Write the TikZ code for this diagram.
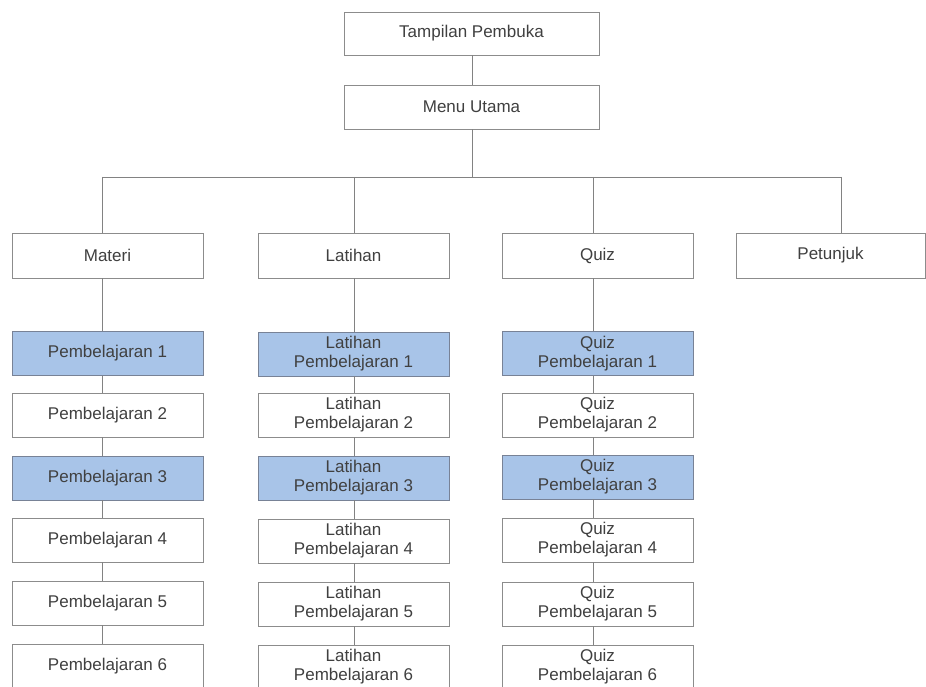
\documentclass[tikz,border=0pt]{standalone}
\usepackage{fontspec}
\setmainfont{Liberation Sans}
\definecolor{boxline}{RGB}{140,140,140}
\definecolor{hl}{RGB}{168,196,232}
\definecolor{hlline}{RGB}{120,130,150}
\definecolor{txt}{RGB}{64,64,64}
\definecolor{conn}{RGB}{130,130,130}
\begin{document}
\begin{tikzpicture}[x=1pt,y=-1pt,
  box/.style={draw=boxline, line width=0.9pt, fill=white, minimum width=191pt, minimum height=44pt,
    inner sep=0pt, align=center, text=txt, font=\fontsize{17}{19}\selectfont},
  topbox/.style={box, minimum width=255pt, minimum height=43pt},
  hlbox/.style={box, fill=hl, draw=hlline},
  link/.style={draw=conn, line width=0.9pt}]
\useasboundingbox (0,0) rectangle (926,687);
\clip (0,0) rectangle (926,687);
% column line positions
\coordinate (cm) at (102,0);
\coordinate (cl) at (354,0);
\coordinate (cq) at (593,0);
\coordinate (cp) at (841,0);
\coordinate (ct) at (472,0);
% top
\node[topbox] (top) at (471.5,33.5) {Tampilan Pembuka};
\node[topbox, minimum height=44pt] (menu) at (471.5,107) {Menu Utama};
% bus
\coordinate (busm) at (472,177);
\coordinate (b1) at (102,177);
\coordinate (b4) at (841,177);
% level 1
\node[box, minimum height=45pt] (materi) at (107.5,255.5) {Materi};
\node[box, minimum height=45pt] (latihan) at (353.5,255.5) {Latihan};
\node[box, minimum height=45pt] (quiz) at (597.5,255.5) {Quiz};
\node[box, minimum height=45pt, minimum width=189pt] (petunjuk) at (830.5,255.5) {Petunjuk};
% Materi column
\node[hlbox] (m1) at (107.5,353.5) {Pembelajaran 1};
\node[box]   (m2) at (107.5,415) {Pembelajaran 2};
\node[hlbox] (m3) at (107.5,478) {Pembelajaran 3};
\node[box]   (m4) at (107.5,540) {Pembelajaran 4};
\node[box]   (m5) at (107.5,603) {Pembelajaran 5};
\node[box]   (m6) at (107.5,666) {Pembelajaran 6};
% Latihan column
\node[hlbox] (l1) at (353.5,354) {Latihan\\Pembelajaran 1};
\node[box]   (l2) at (353.5,415) {Latihan\\Pembelajaran 2};
\node[hlbox] (l3) at (353.5,478) {Latihan\\Pembelajaran 3};
\node[box]   (l4) at (353.5,541) {Latihan\\Pembelajaran 4};
\node[box]   (l5) at (353.5,604) {Latihan\\Pembelajaran 5};
\node[box]   (l6) at (353.5,667) {Latihan\\Pembelajaran 6};
% Quiz column
\node[hlbox] (q1) at (597.5,353.5) {Quiz\\Pembelajaran 1};
\node[box]   (q2) at (597.5,415) {Quiz\\Pembelajaran 2};
\node[hlbox] (q3) at (597.5,477) {Quiz\\Pembelajaran 3};
\node[box]   (q4) at (597.5,540) {Quiz\\Pembelajaran 4};
\node[box]   (q5) at (597.5,604) {Quiz\\Pembelajaran 5};
\node[box]   (q6) at (597.5,667) {Quiz\\Pembelajaran 6};
% connectors
\draw[link] (top.south -| ct) -- (menu.north -| ct);
\draw[link] (menu.south -| ct) -- (busm);
\draw[link] (b1) -- (b4);
\draw[link] (b1) -- (materi.north -| cm);
\draw[link] (b1 -| cl) -- (latihan.north -| cl);
\draw[link] (b1 -| cq) -- (quiz.north -| cq);
\draw[link] (b4) -- (petunjuk.north -| cp);
\draw[link] (materi.south -| cm) -- (m1.north -| cm);
\draw[link] (latihan.south -| cl) -- (l1.north -| cl);
\draw[link] (quiz.south -| cq) -- (q1.north -| cq);
\foreach \a/\b in {1/2,2/3,3/4,4/5,5/6}{
  \draw[link] (m\a.south -| cm) -- (m\b.north -| cm);
  \draw[link] (l\a.south -| cl) -- (l\b.north -| cl);
  \draw[link] (q\a.south -| cq) -- (q\b.north -| cq);
}
\end{tikzpicture}
\end{document}
